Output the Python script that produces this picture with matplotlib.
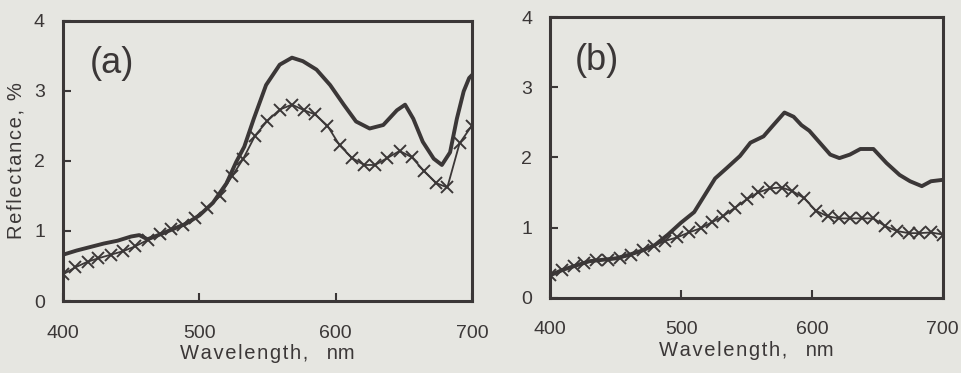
import matplotlib.pyplot as plt

# cross-marked series share one wavelength grid
wl_x = [400, 409, 418, 426, 435, 444, 453, 462, 471, 479, 488, 497, 506, 515, 524, 532, 541, 550,
        559, 568, 577, 585, 594, 603, 612, 621, 629, 638, 647, 656, 665, 674, 682, 691, 700]

# panel (a)
a_cross = [0.38, 0.48, 0.56, 0.61, 0.66, 0.71, 0.78, 0.87, 0.95, 1.02, 1.09, 1.19, 1.32, 1.50, 1.78, 2.02, 2.36, 2.57,
           2.73, 2.80, 2.72, 2.66, 2.50, 2.22, 2.04, 1.94, 1.94, 2.04, 2.14, 2.05, 1.85, 1.68, 1.62, 2.25, 2.50]
a_wl = [400, 410, 420, 430, 440, 450, 456, 462, 470, 480, 490, 500, 510, 520, 527, 533, 540, 549, 559, 568,
        576, 586, 596, 606, 615, 625, 635, 645, 651, 657, 664, 672, 678, 684, 689, 694, 698, 700]
a_solid = [0.66, 0.72, 0.77, 0.82, 0.86, 0.92, 0.94, 0.88, 0.94, 1.02, 1.10, 1.22, 1.40, 1.68, 1.98, 2.20, 2.60, 3.08, 3.37, 3.47,
           3.42, 3.30, 3.08, 2.80, 2.56, 2.46, 2.51, 2.72, 2.80, 2.60, 2.27, 2.03, 1.94, 2.12, 2.60, 2.99, 3.18, 3.22]

# panel (b)
b_cross = [0.32, 0.39, 0.45, 0.50, 0.53, 0.54, 0.56, 0.61, 0.68, 0.74, 0.81, 0.86, 0.93, 0.99, 1.08, 1.16, 1.28, 1.40,
           1.50, 1.56, 1.57, 1.52, 1.42, 1.24, 1.16, 1.13, 1.13, 1.13, 1.13, 1.02, 0.95, 0.92, 0.92, 0.93, 0.90]
b_wl = [400, 410, 420, 430, 440, 450, 460, 470, 480, 490, 500, 510, 520, 526, 535, 545, 553, 563, 570, 579, 586,
        592, 598, 606, 614, 621, 629, 637, 647, 657, 667, 675, 684, 691, 700]
b_solid = [0.32, 0.40, 0.46, 0.52, 0.54, 0.56, 0.61, 0.67, 0.75, 0.90, 1.07, 1.22, 1.52, 1.70, 1.85, 2.02, 2.21, 2.30, 2.45, 2.64, 2.58,
           2.46, 2.38, 2.21, 2.04, 1.99, 2.04, 2.12, 2.12, 1.92, 1.75, 1.66, 1.59, 1.66, 1.68]

xticks = [400, 500, 600, 700]
yticks = [0, 1, 2, 3, 4]

BG = '#e6e6e1'
INK = '#3b3737'
plt.rcParams['font.family'] = ['Liberation Sans', 'DejaVu Sans']


def spaced(s):
    # the scanned labels are set with wide letter spacing
    return '\u200a'.join(s)


fig = plt.figure(figsize=(9.62, 3.73), dpi=100, facecolor=BG)
ax_a = fig.add_axes([0.0655, 0.193, 0.425, 0.752])
ax_b = fig.add_axes([0.572, 0.202, 0.408, 0.752])

panels = [(ax_a, a_wl, a_solid, a_cross, '(a)'), (ax_b, b_wl, b_solid, b_cross, '(b)')]
for ax, wl, solid, cross, tag in panels:
    ax.set_facecolor(BG)
    ax.plot(wl, solid, color=INK, lw=2.8, solid_joinstyle='round')
    ax.plot(wl_x, cross, color=INK, lw=1.3, marker='x', ms=8, mew=1.4)
    ax.set_xlim(400, 700)
    ax.set_ylim(0, 4)
    ax.set_xticks(xticks)
    ax.set_yticks(yticks)
    ax.tick_params(direction='in', length=6, width=1.5, color=INK, labelsize=14,
                   labelcolor=INK)
    ax.tick_params(axis='x', pad=17)
    ax.tick_params(axis='y', pad=13)
    for s in ax.spines.values():
        s.set_linewidth(2.2)
        s.set_color(INK)
    ax.text(436, 3.38, tag, fontsize=26, color=INK, ha='center', va='center')
    ax.set_xlabel(spaced('Wavelength, ') + '  nm', fontsize=14.5, color=INK, labelpad=2)

ax_a.set_ylabel(spaced('Reflectance, %'), fontsize=14.5, color=INK, labelpad=6)

fig.savefig('out.png', dpi=100, facecolor=BG)
